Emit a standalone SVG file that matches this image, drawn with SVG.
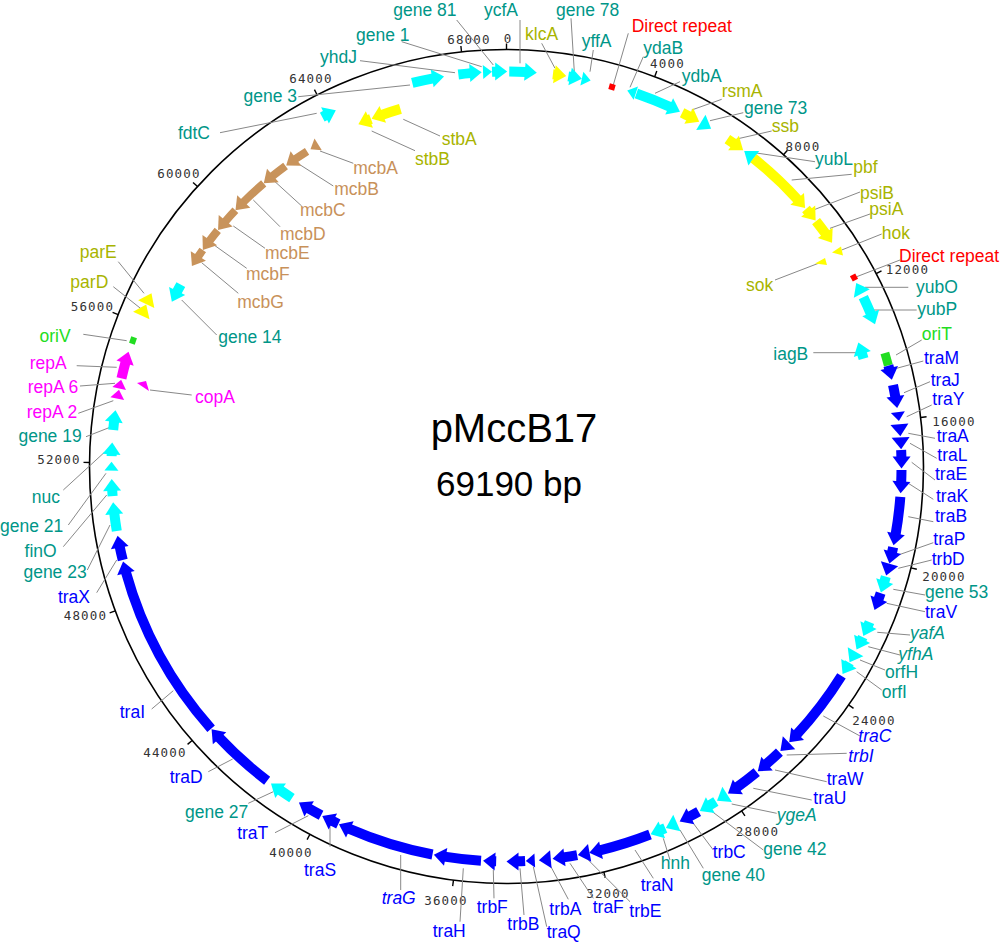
<svg xmlns="http://www.w3.org/2000/svg" xmlns:xlink="http://www.w3.org/1999/xlink" width="1000" height="943" viewBox="0 0 1000 943">
<style>
text{font-family:"Liberation Sans",Arial,sans-serif;font-size:17.5px}
.tk{font-family:"DejaVu Sans Mono",monospace;font-size:12.5px;fill:#333;text-anchor:middle;letter-spacing:1.2px}
.e{text-anchor:end}.mid{text-anchor:middle}.i{font-style:italic}
.C{fill:#00ffff;stroke:#00ffff}.Y{fill:#ffff00;stroke:#ffff00}.B{fill:#0000ff;stroke:#0000ff}
.M{fill:#ff00ff;stroke:#ff00ff}.N{fill:#c8935b;stroke:#c8935b}.G{fill:#22dd22;stroke:#22dd22}.R{fill:#ff0000;stroke:none}
circle.a{fill:none;stroke-width:10}.N circle.a{stroke-width:8}
use,polygon{stroke:none}
text.C,text.Y,text.B,text.M,text.N,text.G{stroke:none}
text.C{fill:#009688}text.Y{fill:#a8b400}text.N{fill:#c8915a}text.G{fill:#22dd22}text.R{fill:#ff0000}
#conn line{stroke:#888;stroke-width:1}
</style>
<defs>
<path id="hw" d="M0,0L-12,-9L-12,9Z"/>
<path id="hc" d="M0,0L12,-9L12,9Z"/>
<path id="sw" d="M0,0L-9,-7L-9,7Z"/>
<path id="sc" d="M0,0L9,-7L9,7Z"/>
</defs>
<g id="backbone">
<circle cx="506.5" cy="466.5" r="417" fill="none" stroke="#000" stroke-width="1.6"/>
<g stroke="#000" stroke-width="1.4">
<line x1="506.5" y1="49.5" x2="506.5" y2="43.5" transform="rotate(0 506.5 466.5)"/>
<line x1="506.5" y1="49.5" x2="506.5" y2="43.5" transform="rotate(20.812 506.5 466.5)"/>
<line x1="506.5" y1="49.5" x2="506.5" y2="43.5" transform="rotate(41.624 506.5 466.5)"/>
<line x1="506.5" y1="49.5" x2="506.5" y2="43.5" transform="rotate(62.437 506.5 466.5)"/>
<line x1="506.5" y1="49.5" x2="506.5" y2="43.5" transform="rotate(83.249 506.5 466.5)"/>
<line x1="506.5" y1="49.5" x2="506.5" y2="43.5" transform="rotate(104.061 506.5 466.5)"/>
<line x1="506.5" y1="49.5" x2="506.5" y2="43.5" transform="rotate(124.873 506.5 466.5)"/>
<line x1="506.5" y1="49.5" x2="506.5" y2="43.5" transform="rotate(145.686 506.5 466.5)"/>
<line x1="506.5" y1="49.5" x2="506.5" y2="43.5" transform="rotate(166.498 506.5 466.5)"/>
<line x1="506.5" y1="49.5" x2="506.5" y2="43.5" transform="rotate(187.310 506.5 466.5)"/>
<line x1="506.5" y1="49.5" x2="506.5" y2="43.5" transform="rotate(208.122 506.5 466.5)"/>
<line x1="506.5" y1="49.5" x2="506.5" y2="43.5" transform="rotate(228.935 506.5 466.5)"/>
<line x1="506.5" y1="49.5" x2="506.5" y2="43.5" transform="rotate(249.747 506.5 466.5)"/>
<line x1="506.5" y1="49.5" x2="506.5" y2="43.5" transform="rotate(270.559 506.5 466.5)"/>
<line x1="506.5" y1="49.5" x2="506.5" y2="43.5" transform="rotate(291.371 506.5 466.5)"/>
<line x1="506.5" y1="49.5" x2="506.5" y2="43.5" transform="rotate(312.184 506.5 466.5)"/>
<line x1="506.5" y1="49.5" x2="506.5" y2="43.5" transform="rotate(332.996 506.5 466.5)"/>
<line x1="506.5" y1="49.5" x2="506.5" y2="43.5" transform="rotate(353.808 506.5 466.5)"/>
</g>
<text class="tk" x="508" y="43">0</text>
<text class="tk" x="667.5" y="68">4000</text>
<text class="tk" x="803" y="151">8000</text>
<text class="tk" x="907.5" y="274">12000</text>
<text class="tk" x="954" y="425.5">16000</text>
<text class="tk" x="944" y="581">20000</text>
<text class="tk" x="874" y="725">24000</text>
<text class="tk" x="757.5" y="836">28000</text>
<text class="tk" x="608" y="897.5">32000</text>
<text class="tk" x="446" y="905">36000</text>
<text class="tk" x="291" y="856.7">40000</text>
<text class="tk" x="165" y="757.3">44000</text>
<text class="tk" x="85.5" y="620">48000</text>
<text class="tk" x="59" y="464">52000</text>
<text class="tk" x="92.5" y="310.7">56000</text>
<text class="tk" x="179" y="177.7">60000</text>
<text class="tk" x="311" y="82.7">64000</text>
<text class="tk" x="469" y="44">68000</text>
<text x="514" y="441.7" class="mid" style="font-size:40px" fill="#000">pMccB17</text>
<text x="509" y="496" class="mid" style="font-size:35px" fill="#000">69190 bp</text>
</g>
<g id="conn">
<line x1="456.7" y1="20" x2="493.3" y2="65"/>
<line x1="520" y1="20" x2="520" y2="63.3"/>
<line x1="571" y1="18.3" x2="574.3" y2="71.7"/>
<line x1="628.3" y1="33.3" x2="613.3" y2="85"/>
<line x1="401.7" y1="41.7" x2="481.7" y2="66.7"/>
<line x1="541.7" y1="43.3" x2="555" y2="68.3"/>
<line x1="593.3" y1="50" x2="590" y2="71.7"/>
<line x1="643.3" y1="56.7" x2="630" y2="87.3"/>
<line x1="360" y1="60.7" x2="455" y2="72.7"/>
<line x1="680" y1="81.7" x2="655" y2="93.3"/>
<line x1="298.3" y1="96.7" x2="410" y2="85"/>
<line x1="440" y1="136" x2="403.3" y2="119.3"/>
<line x1="415" y1="150.7" x2="371.7" y2="131"/>
<line x1="353.3" y1="163.3" x2="320" y2="151"/>
<line x1="333.3" y1="186" x2="296.7" y2="162.7"/>
<line x1="301.7" y1="206" x2="275" y2="181.7"/>
<line x1="280" y1="226.7" x2="253.3" y2="200"/>
<line x1="265" y1="248.3" x2="233.3" y2="226"/>
<line x1="246.7" y1="268.3" x2="215" y2="245.7"/>
<line x1="238.3" y1="293.3" x2="201.7" y2="262.7"/>
<line x1="118.3" y1="261.7" x2="144" y2="293.3"/>
<line x1="113.3" y1="286.7" x2="141.7" y2="309.3"/>
<line x1="216.7" y1="335" x2="181.7" y2="300"/>
<line x1="83.3" y1="334.3" x2="126.7" y2="340.7"/>
<line x1="76.7" y1="365.7" x2="116.7" y2="367.3"/>
<line x1="80" y1="386" x2="115" y2="383.3"/>
<line x1="191.7" y1="395" x2="150" y2="390"/>
<line x1="78.3" y1="413.3" x2="113.3" y2="400.7"/>
<line x1="86" y1="436.7" x2="110" y2="427.3"/>
<line x1="63.3" y1="490" x2="104" y2="452.7"/>
<line x1="68.3" y1="525" x2="106" y2="473.3"/>
<line x1="63.3" y1="546.7" x2="106.7" y2="495"/>
<line x1="87.3" y1="570" x2="110" y2="525"/>
<line x1="96.7" y1="592.7" x2="116.7" y2="560"/>
<line x1="151.7" y1="709" x2="173.3" y2="690.7"/>
<line x1="208.3" y1="771.7" x2="232.7" y2="759"/>
<line x1="248.3" y1="803.3" x2="273.3" y2="791.7"/>
<line x1="275" y1="832.7" x2="308.3" y2="815.7"/>
<line x1="330" y1="846.7" x2="330" y2="826.7"/>
<line x1="400.7" y1="855" x2="400.7" y2="890"/>
<line x1="463.3" y1="868.3" x2="460" y2="921.7"/>
<line x1="493.3" y1="870" x2="494" y2="898.3"/>
<line x1="520" y1="868.3" x2="524" y2="915"/>
<line x1="533.3" y1="866.7" x2="546.7" y2="926.7"/>
<line x1="550" y1="865" x2="568.3" y2="899.3"/>
<line x1="570" y1="863.3" x2="593.3" y2="898.3"/>
<line x1="588.3" y1="860" x2="630" y2="901.7"/>
<line x1="635" y1="850" x2="653.3" y2="878.3"/>
<line x1="663.3" y1="838.3" x2="670" y2="860"/>
<line x1="680" y1="830" x2="703.3" y2="868.3"/>
<line x1="693.3" y1="823.3" x2="713.3" y2="850"/>
<line x1="710" y1="810" x2="763.3" y2="850"/>
<line x1="731.7" y1="804" x2="776.7" y2="813.3"/>
<line x1="753.3" y1="788.3" x2="811.7" y2="800"/>
<line x1="775" y1="770" x2="826.7" y2="781.7"/>
<line x1="786.7" y1="755" x2="846.7" y2="753.3"/>
<line x1="823.3" y1="716" x2="860" y2="736"/>
<line x1="856.7" y1="671.7" x2="881.7" y2="690"/>
<line x1="860" y1="660" x2="885" y2="670"/>
<line x1="868.3" y1="646.7" x2="900" y2="655"/>
<line x1="877.3" y1="632.3" x2="910" y2="635"/>
<line x1="886.7" y1="603.3" x2="925" y2="611.7"/>
<line x1="893.3" y1="589.3" x2="925" y2="595"/>
<line x1="898.3" y1="568.3" x2="931.7" y2="560"/>
<line x1="898.3" y1="555" x2="933.3" y2="542.7"/>
<line x1="908.3" y1="516.7" x2="933.3" y2="521.7"/>
<line x1="908.3" y1="483.3" x2="933.3" y2="499.3"/>
<line x1="911.7" y1="462.3" x2="935" y2="480"/>
<line x1="910" y1="443.3" x2="936.7" y2="458.3"/>
<line x1="908.3" y1="433.3" x2="935" y2="438.3"/>
<line x1="906.7" y1="416.7" x2="931.7" y2="405"/>
<line x1="904" y1="392.7" x2="930" y2="381.7"/>
<line x1="896.7" y1="368.3" x2="923.3" y2="361"/>
<line x1="896" y1="355" x2="921.7" y2="340"/>
<line x1="813.3" y1="352.7" x2="856.7" y2="352.7"/>
<line x1="873.3" y1="310" x2="916.7" y2="310"/>
<line x1="865" y1="287.3" x2="908.3" y2="287.3"/>
<line x1="856.7" y1="276.7" x2="900" y2="260"/>
<line x1="775" y1="280" x2="820" y2="262.7"/>
<line x1="841.7" y1="250" x2="881.7" y2="234"/>
<line x1="830" y1="228.3" x2="870" y2="214"/>
<line x1="813.3" y1="210" x2="860" y2="192"/>
<line x1="791.7" y1="180" x2="851.7" y2="174.3"/>
<line x1="751.7" y1="152.3" x2="815" y2="161.7"/>
<line x1="736.7" y1="139" x2="771.7" y2="131"/>
<line x1="710" y1="120.7" x2="743.3" y2="112.7"/>
<line x1="691.7" y1="110" x2="721.7" y2="99.3"/>
<line x1="220" y1="132.7" x2="316.7" y2="113.3"/>
</g>
<g id="n-gene3" class="C"><circle class="a" cx="506.5" cy="466.5" r="395" pathLength="360" stroke-dasharray="3.15 360" transform="rotate(256.2 506.5 466.5)"/><use href="#hw" transform="rotate(350.9 506.5 466.5) translate(506.5,71.5)"/><text class="C e" x="297" y="101.7">gene 3</text></g>
<g id="n-yhdJ" class="C"><circle class="a" cx="506.5" cy="466.5" r="395" pathLength="360" stroke-dasharray="1.85 360" transform="rotate(263 506.5 466.5)"/><use href="#hw" transform="rotate(356.4 506.5 466.5) translate(506.5,71.5)"/><text class="C" x="320" y="63.3">yhdJ</text></g>
<g id="n-gene1" class="C"><use href="#sw" transform="rotate(357.9 506.5 466.5) translate(506.5,71.5)"/><text class="C" x="356" y="40.7">gene 1</text></g>
<g id="n-gene81" class="C"><circle class="a" cx="506.5" cy="466.5" r="395" pathLength="360" stroke-dasharray="0.65 360" transform="rotate(267.9 506.5 466.5)"/><use href="#hw" transform="rotate(0.1 506.5 466.5) translate(506.5,71.5)"/><text class="C" x="393.3" y="16">gene 81</text></g>
<g id="n-ycfA" class="C"><circle class="a" cx="506.5" cy="466.5" r="395" pathLength="360" stroke-dasharray="2.45 360" transform="rotate(-89.6 506.5 466.5)"/><use href="#hw" transform="rotate(4.4 506.5 466.5) translate(506.5,71.5)"/><text class="C" x="484" y="16">ycfA</text></g>
<g id="n-klcA" class="Y"><circle class="a" cx="506.5" cy="466.5" r="395" pathLength="360" stroke-dasharray="0.4 360" transform="rotate(-83.25 506.5 466.5)"/><use href="#hw" transform="rotate(8.7 506.5 466.5) translate(506.5,71.5)"/><text class="Y" x="525" y="40">klcA</text></g>
<g id="n-gene78" class="C"><circle class="a" cx="506.5" cy="466.5" r="395" pathLength="360" stroke-dasharray="0.45 360" transform="rotate(-81 506.5 466.5)"/><use href="#hw" transform="rotate(11 506.5 466.5) translate(506.5,71.5)"/><text class="C" x="556" y="16">gene 78</text></g>
<g id="n-yffA" class="C"><use href="#sw" transform="rotate(12.3 506.5 466.5) translate(506.5,71.5)"/><text class="C" x="581.7" y="46.7">yffA</text></g>
<g id="n-dr1"><rect class="R" x="-3" y="-3" width="6" height="6" transform="translate(612,87) rotate(15.5)"/><text class="R" x="631.7" y="32.3">Direct repeat</text></g>
<g id="n-ydaB" class="C"><use href="#sc" transform="rotate(17.8 506.5 466.5) translate(506.5,71.5)"/><text class="C" x="643.3" y="54.3">ydaB</text></g>
<g id="n-ydbA" class="C"><circle class="a" cx="506.5" cy="466.5" r="395" pathLength="360" stroke-dasharray="5.3 360" transform="rotate(-70.8 506.5 466.5)"/><use href="#hw" transform="rotate(26.05 506.5 466.5) translate(506.5,71.5)"/><text class="C" x="681.7" y="81.7">ydbA</text></g>
<g id="n-rsmA" class="Y"><circle class="a" cx="506.5" cy="466.5" r="395" pathLength="360" stroke-dasharray="1.25 360" transform="rotate(-63.6 506.5 466.5)"/><use href="#hw" transform="rotate(29.2 506.5 466.5) translate(506.5,71.5)"/><text class="Y" x="721.7" y="97.3">rsmA</text></g>
<g id="n-gene73" class="C"><use href="#hw" transform="rotate(31.2 506.5 466.5) translate(506.5,71.5)"/><text class="C" x="744" y="114.3">gene 73</text></g>
<g id="n-ssb" class="Y"><circle class="a" cx="506.5" cy="466.5" r="395" pathLength="360" stroke-dasharray="1.25 360" transform="rotate(-56 506.5 466.5)"/><use href="#hw" transform="rotate(36.8 506.5 466.5) translate(506.5,71.5)"/><text class="Y" x="771.7" y="131.7">ssb</text></g>
<g id="n-yubL" class="C"><use href="#hc" transform="rotate(37 506.5 466.5) translate(506.5,71.5)"/><text class="C" x="815" y="165">yubL</text></g>
<g id="n-pbf" class="Y"><circle class="a" cx="506.5" cy="466.5" r="395" pathLength="360" stroke-dasharray="8.85 360" transform="rotate(-51.3 506.5 466.5)"/><use href="#hw" transform="rotate(49.1 506.5 466.5) translate(506.5,71.5)"/><text class="Y" x="853.3" y="173.3">pbf</text></g>
<g id="n-psiB" class="Y"><circle class="a" cx="506.5" cy="466.5" r="395" pathLength="360" stroke-dasharray="0.65 360" transform="rotate(-40.7 506.5 466.5)"/><use href="#hw" transform="rotate(51.5 506.5 466.5) translate(506.5,71.5)"/><text class="Y" x="860" y="199">psiB</text></g>
<g id="n-psiA" class="Y"><circle class="a" cx="506.5" cy="466.5" r="395" pathLength="360" stroke-dasharray="2.35 360" transform="rotate(-38.4 506.5 466.5)"/><use href="#hw" transform="rotate(55.5 506.5 466.5) translate(506.5,71.5)"/><text class="Y" x="869.3" y="215">psiA</text></g>
<g id="n-hok" class="Y"><polygon points="832,252.5 841,246.5 843,255.5"/><text class="Y" x="881.7" y="239.3">hok</text></g>
<g id="n-sok" class="Y"><polygon points="815,263.5 825,258 827,265"/><text class="Y e" x="773.3" y="290.7">sok</text></g>
<g id="n-dr2"><rect class="R" x="-3" y="-3" width="6" height="6" transform="translate(854,277.5) rotate(61.5)"/><text class="R" x="899" y="261.7">Direct repeat</text></g>
<g id="n-yubO" class="C"><use href="#hc" transform="rotate(62.3 506.5 466.5) translate(506.5,71.5)"/><text class="C" x="916" y="293.3">yubO</text></g>
<g id="n-yubP" class="C"><circle class="a" cx="506.5" cy="466.5" r="395" pathLength="360" stroke-dasharray="2.75 360" transform="rotate(-25.4 506.5 466.5)"/><use href="#hw" transform="rotate(68.9 506.5 466.5) translate(506.5,71.5)"/><text class="C" x="917.3" y="315">yubP</text></g>
<g id="n-iagB" class="C"><circle class="a" cx="506.5" cy="466.5" r="373" pathLength="360" stroke-dasharray="0.95 360" transform="rotate(-17.75 506.5 466.5)"/><use href="#hc" transform="rotate(70.6 506.5 466.5) translate(506.5,93.5)"/><text class="C e" x="808.3" y="360">iagB</text></g>
<g id="n-oriT" class="G"><circle class="a" cx="506.5" cy="466.5" r="395" pathLength="360" stroke-dasharray="1.9 360" transform="rotate(-16.7 506.5 466.5)" style="stroke-width:9"/><text class="G" x="921.7" y="340">oriT</text></g>
<g id="n-traM" class="B"><circle class="a" cx="506.5" cy="466.5" r="395" pathLength="360" stroke-dasharray="0.55 360" transform="rotate(-14.8 506.5 466.5)"/><use href="#hw" transform="rotate(77.3 506.5 466.5) translate(506.5,71.5)"/><text class="B" x="924" y="364">traM</text></g>
<g id="n-traJ" class="B"><circle class="a" cx="506.5" cy="466.5" r="395" pathLength="360" stroke-dasharray="1.85 360" transform="rotate(-11.9 506.5 466.5)"/><use href="#hw" transform="rotate(81.5 506.5 466.5) translate(506.5,71.5)"/><text class="B" x="930.7" y="385.7">traJ</text></g>
<g id="n-traY" class="B"><use href="#sw" transform="rotate(83.4 506.5 466.5) translate(506.5,71.5)"/><text class="B" x="932.3" y="405">traY</text></g>
<g id="n-traA" class="B"><use href="#hw" transform="rotate(85.6 506.5 466.5) translate(506.5,71.5)"/><text class="B" x="936.7" y="441.7">traA</text></g>
<g id="n-traL" class="B"><use href="#hw" transform="rotate(87.5 506.5 466.5) translate(506.5,71.5)"/><text class="B" x="937.3" y="460.7">traL</text></g>
<g id="n-traE" class="B"><circle class="a" cx="506.5" cy="466.5" r="395" pathLength="360" stroke-dasharray="1.15 360" transform="rotate(-2.4 506.5 466.5)"/><use href="#hw" transform="rotate(90.3 506.5 466.5) translate(506.5,71.5)"/><text class="B" x="935" y="480">traE</text></g>
<g id="n-traK" class="B"><circle class="a" cx="506.5" cy="466.5" r="395" pathLength="360" stroke-dasharray="1.85 360" transform="rotate(0.5 506.5 466.5)"/><use href="#hw" transform="rotate(93.9 506.5 466.5) translate(506.5,71.5)"/><text class="B" x="936" y="502.3">traK</text></g>
<g id="n-traB" class="B"><circle class="a" cx="506.5" cy="466.5" r="395" pathLength="360" stroke-dasharray="5.55 360" transform="rotate(4.4 506.5 466.5)"/><use href="#hw" transform="rotate(101.5 506.5 466.5) translate(506.5,71.5)"/><text class="B" x="935" y="521.7">traB</text></g>
<g id="n-traP" class="B"><circle class="a" cx="506.5" cy="466.5" r="395" pathLength="360" stroke-dasharray="0.85 360" transform="rotate(11.8 506.5 466.5)"/><use href="#hw" transform="rotate(104.2 506.5 466.5) translate(506.5,71.5)"/><text class="B" x="933.3" y="545">traP</text></g>
<g id="n-trbD" class="B"><use href="#hw" transform="rotate(106 506.5 466.5) translate(506.5,71.5)"/><text class="B" x="931.7" y="565">trbD</text></g>
<g id="n-gene53" class="C"><circle class="a" cx="506.5" cy="466.5" r="395" pathLength="360" stroke-dasharray="0.85 360" transform="rotate(16.2 506.5 466.5)"/><use href="#hw" transform="rotate(108.6 506.5 466.5) translate(506.5,71.5)"/><text class="C" x="925" y="598.3">gene 53</text></g>
<g id="n-traV" class="B"><circle class="a" cx="506.5" cy="466.5" r="395" pathLength="360" stroke-dasharray="1.05 360" transform="rotate(18.7 506.5 466.5)"/><use href="#hw" transform="rotate(111.3 506.5 466.5) translate(506.5,71.5)"/><text class="B" x="925" y="618.3">traV</text></g>
<g id="n-yafA" class="C"><circle class="a" cx="506.5" cy="466.5" r="395" pathLength="360" stroke-dasharray="0.65 360" transform="rotate(23.2 506.5 466.5)"/><use href="#hw" transform="rotate(115.4 506.5 466.5) translate(506.5,71.5)"/><text class="C i" x="910" y="639.3">yafA</text></g>
<g id="n-yfhA" class="C"><circle class="a" cx="506.5" cy="466.5" r="395" pathLength="360" stroke-dasharray="0.45 360" transform="rotate(25.6 506.5 466.5)"/><use href="#hw" transform="rotate(117.6 506.5 466.5) translate(506.5,71.5)"/><text class="C i" x="898.3" y="660">yfhA</text></g>
<g id="n-orfH" class="C"><use href="#hw" transform="rotate(119.7 506.5 466.5) translate(506.5,71.5)"/><text class="C" x="885" y="678.3">orfH</text></g>
<g id="n-orfI" class="C"><circle class="a" cx="506.5" cy="466.5" r="395" pathLength="360" stroke-dasharray="0.35 360" transform="rotate(29.8 506.5 466.5)"/><use href="#hw" transform="rotate(121.7 506.5 466.5) translate(506.5,71.5)"/><text class="C" x="881.7" y="698.3">orfI</text></g>
<g id="n-traC" class="B"><circle class="a" cx="506.5" cy="466.5" r="395" pathLength="360" stroke-dasharray="10.75 360" transform="rotate(32 506.5 466.5)"/><use href="#hw" transform="rotate(134.3 506.5 466.5) translate(506.5,71.5)"/><text class="B i" x="858.3" y="741.7">traC</text></g>
<g id="n-trbI" class="B"><use href="#hw" transform="rotate(136.1 506.5 466.5) translate(506.5,71.5)"/><text class="B i" x="848.3" y="761.7">trbI</text></g>
<g id="n-traW" class="B"><circle class="a" cx="506.5" cy="466.5" r="395" pathLength="360" stroke-dasharray="2.65 360" transform="rotate(46.3 506.5 466.5)"/><use href="#hw" transform="rotate(140.5 506.5 466.5) translate(506.5,71.5)"/><text class="B" x="826.7" y="785">traW</text></g>
<g id="n-traU" class="B"><circle class="a" cx="506.5" cy="466.5" r="395" pathLength="360" stroke-dasharray="3.65 360" transform="rotate(50.7 506.5 466.5)"/><use href="#hw" transform="rotate(145.9 506.5 466.5) translate(506.5,71.5)"/><text class="B" x="813.3" y="804">traU</text></g>
<g id="n-ygeA" class="C"><use href="#hw" transform="rotate(147.8 506.5 466.5) translate(506.5,71.5)"/><text class="C i" x="776.7" y="820.7">ygeA</text></g>
<g id="n-gene42" class="C"><circle class="a" cx="506.5" cy="466.5" r="395" pathLength="360" stroke-dasharray="1.15 360" transform="rotate(58 506.5 466.5)"/><use href="#hw" transform="rotate(150.7 506.5 466.5) translate(506.5,71.5)"/><text class="C" x="763.3" y="855">gene 42</text></g>
<g id="n-trbC" class="B"><circle class="a" cx="506.5" cy="466.5" r="395" pathLength="360" stroke-dasharray="1.55 360" transform="rotate(60.9 506.5 466.5)"/><use href="#hw" transform="rotate(154 506.5 466.5) translate(506.5,71.5)"/><text class="B" x="712.7" y="858.3">trbC</text></g>
<g id="n-gene40" class="C"><use href="#hw" transform="rotate(156.2 506.5 466.5) translate(506.5,71.5)"/><text class="C" x="701.7" y="881">gene 40</text></g>
<g id="n-hnh" class="C"><circle class="a" cx="506.5" cy="466.5" r="395" pathLength="360" stroke-dasharray="0.75 360" transform="rotate(66.3 506.5 466.5)"/><use href="#hw" transform="rotate(158.6 506.5 466.5) translate(506.5,71.5)"/><text class="C" x="660.7" y="869.3">hnh</text></g>
<g id="n-traN" class="B"><circle class="a" cx="506.5" cy="466.5" r="395" pathLength="360" stroke-dasharray="7.65 360" transform="rotate(68.7 506.5 466.5)"/><use href="#hw" transform="rotate(167.9 506.5 466.5) translate(506.5,71.5)"/><text class="B" x="640.7" y="890.7">traN</text></g>
<g id="n-trbE" class="B"><use href="#hw" transform="rotate(169.6 506.5 466.5) translate(506.5,71.5)"/><text class="B" x="629.3" y="916.7">trbE</text></g>
<g id="n-traF" class="B"><circle class="a" cx="506.5" cy="466.5" r="395" pathLength="360" stroke-dasharray="2.05 360" transform="rotate(79.7 506.5 466.5)"/><use href="#hw" transform="rotate(173.3 506.5 466.5) translate(506.5,71.5)"/><text class="B" x="592.7" y="913.3">traF</text></g>
<g id="n-trbA" class="B"><use href="#hw" transform="rotate(175.3 506.5 466.5) translate(506.5,71.5)"/><text class="B" x="549.3" y="915">trbA</text></g>
<g id="n-traQ" class="B"><use href="#sw" transform="rotate(177.2 506.5 466.5) translate(506.5,71.5)"/><text class="B" x="546.7" y="938.3">traQ</text></g>
<g id="n-trbB" class="B"><circle class="a" cx="506.5" cy="466.5" r="395" pathLength="360" stroke-dasharray="1.15 360" transform="rotate(87.3 506.5 466.5)"/><use href="#hw" transform="rotate(180 506.5 466.5) translate(506.5,71.5)"/><text class="B" x="507.3" y="930">trbB</text></g>
<g id="n-trbF" class="B"><circle class="a" cx="506.5" cy="466.5" r="395" pathLength="360" stroke-dasharray="0.35 360" transform="rotate(91.5 506.5 466.5)"/><use href="#hw" transform="rotate(183.4 506.5 466.5) translate(506.5,71.5)"/><text class="B" x="476.7" y="913.3">trbF</text></g>
<g id="n-traH" class="B"><circle class="a" cx="506.5" cy="466.5" r="395" pathLength="360" stroke-dasharray="5.35 360" transform="rotate(93.7 506.5 466.5)"/><use href="#hw" transform="rotate(190.6 506.5 466.5) translate(506.5,71.5)"/><text class="B" x="432.7" y="936.7">traH</text></g>
<g id="n-traG" class="B"><circle class="a" cx="506.5" cy="466.5" r="395" pathLength="360" stroke-dasharray="12.75 360" transform="rotate(100.8 506.5 466.5)"/><use href="#hw" transform="rotate(205.1 506.5 466.5) translate(506.5,71.5)"/><text class="B i" x="381.7" y="904">traG</text></g>
<g id="n-traS" class="B"><circle class="a" cx="506.5" cy="466.5" r="395" pathLength="360" stroke-dasharray="1.05 360" transform="rotate(115.2 506.5 466.5)"/><use href="#hw" transform="rotate(207.8 506.5 466.5) translate(506.5,71.5)"/><text class="B" x="304" y="876">traS</text></g>
<g id="n-traT" class="B"><circle class="a" cx="506.5" cy="466.5" r="395" pathLength="360" stroke-dasharray="2.15 360" transform="rotate(118 506.5 466.5)"/><use href="#hw" transform="rotate(211.7 506.5 466.5) translate(506.5,71.5)"/><text class="B e" x="268.3" y="839.3">traT</text></g>
<g id="n-gene27" class="C"><circle class="a" cx="506.5" cy="466.5" r="395" pathLength="360" stroke-dasharray="2.15 360" transform="rotate(122.9 506.5 466.5)"/><use href="#hw" transform="rotate(216.6 506.5 466.5) translate(506.5,71.5)"/><text class="C e" x="248.3" y="818.3">gene 27</text></g>
<g id="n-traD" class="B"><circle class="a" cx="506.5" cy="466.5" r="395" pathLength="360" stroke-dasharray="9.45 360" transform="rotate(127.3 506.5 466.5)"/><use href="#hw" transform="rotate(228.3 506.5 466.5) translate(506.5,71.5)"/><text class="B e" x="202.7" y="782.7">traD</text></g>
<g id="n-traI" class="B"><circle class="a" cx="506.5" cy="466.5" r="395" pathLength="360" stroke-dasharray="26.15 360" transform="rotate(138.4 506.5 466.5)"/><use href="#hw" transform="rotate(256.1 506.5 466.5) translate(506.5,71.5)"/><text class="B e" x="145" y="718.3">traI</text></g>
<g id="n-traX" class="B"><circle class="a" cx="506.5" cy="466.5" r="395" pathLength="360" stroke-dasharray="2.05 360" transform="rotate(166.3 506.5 466.5)"/><use href="#hw" transform="rotate(259.9 506.5 466.5) translate(506.5,71.5)"/><text class="B e" x="90" y="602.7">traX</text></g>
<g id="n-gene23" class="C"><circle class="a" cx="506.5" cy="466.5" r="395" pathLength="360" stroke-dasharray="2.65 360" transform="rotate(170.6 506.5 466.5)"/><use href="#hw" transform="rotate(264.8 506.5 466.5) translate(506.5,71.5)"/><text class="C e" x="86.7" y="578.3">gene 23</text></g>
<g id="n-finO" class="C"><circle class="a" cx="506.5" cy="466.5" r="395" pathLength="360" stroke-dasharray="0.95 360" transform="rotate(175.7 506.5 466.5)"/><use href="#hw" transform="rotate(268.2 506.5 466.5) translate(506.5,71.5)"/><text class="C e" x="56.7" y="556.7">finO</text></g>
<g id="n-gene21" class="C"><use href="#sw" transform="rotate(270.7 506.5 466.5) translate(506.5,71.5)"/><text class="C e" x="63.3" y="531.7">gene 21</text></g>
<g id="n-nuc" class="C"><circle class="a" cx="506.5" cy="466.5" r="395" pathLength="360" stroke-dasharray="0.45 360" transform="rotate(181.5 506.5 466.5)"/><use href="#hw" transform="rotate(273.5 506.5 466.5) translate(506.5,71.5)"/><text class="C e" x="60" y="503.3">nuc</text></g>
<g id="n-gene19" class="C"><circle class="a" cx="506.5" cy="466.5" r="395" pathLength="360" stroke-dasharray="1.35 360" transform="rotate(185.3 506.5 466.5)"/><use href="#hw" transform="rotate(278.2 506.5 466.5) translate(506.5,71.5)"/><text class="C e" x="81.7" y="441.7">gene 19</text></g>
<g id="n-repA2" class="M"><use href="#sw" transform="rotate(281.2 506.5 466.5) translate(506.5,71.5)"/><text class="M e" x="77.3" y="418.3">repA 2</text></g>
<g id="n-repA6" class="M"><use href="#sw" transform="rotate(282.7 506.5 466.5) translate(506.5,71.5)"/><text class="M e" x="78.3" y="393.3">repA 6</text></g>
<g id="n-copA" class="M"><polygon points="137,383 146,381 149,391"/><text class="M" x="195" y="403.3">copA</text></g>
<g id="n-repA" class="M"><circle class="a" cx="506.5" cy="466.5" r="395" pathLength="360" stroke-dasharray="2.45 360" transform="rotate(192.9 506.5 466.5)"/><use href="#hw" transform="rotate(286.9 506.5 466.5) translate(506.5,71.5)"/><text class="M e" x="66.7" y="369.3">repA</text></g>
<g id="n-oriV"><rect x="-3.5" y="-3" width="7" height="6" fill="#22dd22" transform="translate(133,340.5) rotate(288.6)"/><text class="G e" x="70.7" y="341.7">oriV</text></g>
<g id="n-parD" class="Y"><use href="#hw" transform="rotate(294.2 506.5 466.5) translate(506.5,71.5)"/><text class="Y e" x="108.3" y="288.3">parD</text></g>
<g id="n-parE" class="Y"><use href="#hw" transform="rotate(296 506.5 466.5) translate(506.5,71.5)"/><text class="Y e" x="116.7" y="258.3">parE</text></g>
<g id="n-gene14" class="C"><circle class="a" cx="506.5" cy="466.5" r="373" pathLength="360" stroke-dasharray="1.35 360" transform="rotate(207.85 506.5 466.5)"/><use href="#hc" transform="rotate(296.2 506.5 466.5) translate(506.5,93.5)"/><text class="C" x="218.3" y="343.3">gene 14</text></g>
<g id="n-mcbG" class="N"><circle class="a" cx="506.5" cy="466.5" r="373" pathLength="360" stroke-dasharray="1.35 360" transform="rotate(214.15 506.5 466.5)"/><use href="#hc" transform="rotate(302.5 506.5 466.5) translate(506.5,93.5)"/><text class="N" x="237.3" y="308.3">mcbG</text></g>
<g id="n-mcbF" class="N"><circle class="a" cx="506.5" cy="466.5" r="373" pathLength="360" stroke-dasharray="2.15 360" transform="rotate(217.15 506.5 466.5)"/><use href="#hc" transform="rotate(305.5 506.5 466.5) translate(506.5,93.5)"/><text class="N" x="246" y="280">mcbF</text></g>
<g id="n-mcbE" class="N"><circle class="a" cx="506.5" cy="466.5" r="373" pathLength="360" stroke-dasharray="2.4 360" transform="rotate(221 506.5 466.5)"/><use href="#hc" transform="rotate(309.35 506.5 466.5) translate(506.5,93.5)"/><text class="N" x="265" y="259.3">mcbE</text></g>
<g id="n-mcbD" class="N"><circle class="a" cx="506.5" cy="466.5" r="373" pathLength="360" stroke-dasharray="4.35 360" transform="rotate(225.05 506.5 466.5)"/><use href="#hc" transform="rotate(313.4 506.5 466.5) translate(506.5,93.5)"/><text class="N" x="280" y="240">mcbD</text></g>
<g id="n-mcbC" class="N"><circle class="a" cx="506.5" cy="466.5" r="373" pathLength="360" stroke-dasharray="2.65 360" transform="rotate(231.05 506.5 466.5)"/><use href="#hc" transform="rotate(319.4 506.5 466.5) translate(506.5,93.5)"/><text class="N" x="300" y="216">mcbC</text></g>
<g id="n-mcbB" class="N"><circle class="a" cx="506.5" cy="466.5" r="373" pathLength="360" stroke-dasharray="2.25 360" transform="rotate(235.45 506.5 466.5)"/><use href="#hc" transform="rotate(323.8 506.5 466.5) translate(506.5,93.5)"/><text class="N" x="334.3" y="195">mcbB</text></g>
<g id="n-mcbA" class="N"><use href="#sc" transform="rotate(328.3 506.5 466.5) translate(506.5,93.5)"/><text class="N" x="353.3" y="174">mcbA</text></g>
<g id="n-fdtC" class="C"><circle class="a" cx="506.5" cy="466.5" r="395" pathLength="360" stroke-dasharray="0.65 360" transform="rotate(242.2 506.5 466.5)"/><use href="#hw" transform="rotate(334.4 506.5 466.5) translate(506.5,71.5)"/><text class="C e" x="210" y="139.3">fdtC</text></g>
<g id="n-stbB" class="Y"><circle class="a" cx="506.5" cy="466.5" r="373" pathLength="360" stroke-dasharray="0.45 360" transform="rotate(248.25 506.5 466.5)"/><use href="#hc" transform="rotate(336.6 506.5 466.5) translate(506.5,93.5)"/><text class="Y" x="415" y="165">stbB</text></g>
<g id="n-stbA" class="Y"><circle class="a" cx="506.5" cy="466.5" r="373" pathLength="360" stroke-dasharray="3.05 360" transform="rotate(250.45 506.5 466.5)"/><use href="#hc" transform="rotate(338.8 506.5 466.5) translate(506.5,93.5)"/><text class="Y" x="441.7" y="145">stbA</text></g>
</svg>
